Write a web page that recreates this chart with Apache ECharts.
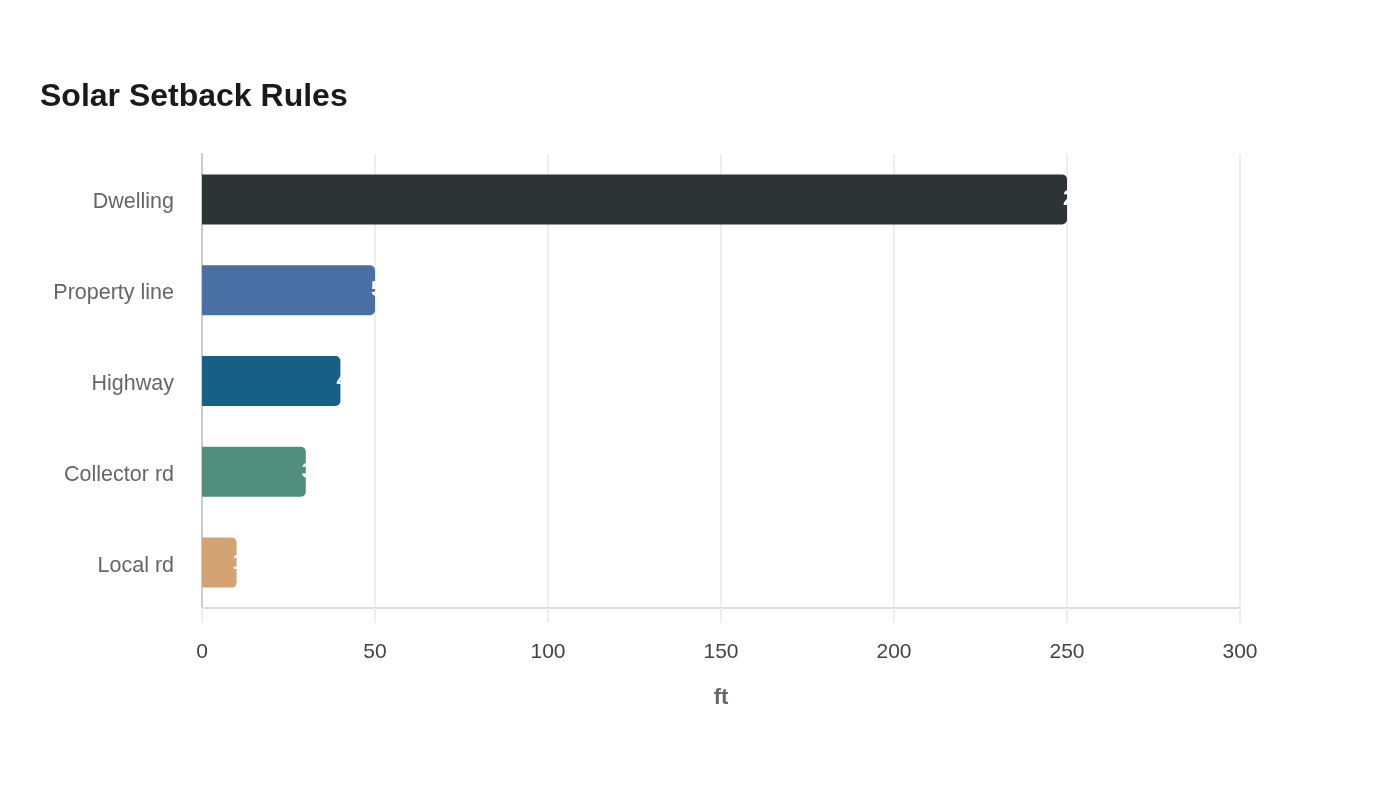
<!DOCTYPE html>
<html>
<head>
<meta charset="utf-8">
<script src="https://cdn.jsdelivr.net/npm/echarts@6/dist/echarts.min.js"></script>
<style>
  html, body { margin: 0; padding: 0; background: #fff; }
  #main { width: 1400px; height: 800px; }
</style>
</head>
<body>
<div id="main"></div>
<script>
var categories = ['Dwelling', 'Property line', 'Highway', 'Collector rd', 'Local rd'];
var values = [250, 50, 40, 30, 10];
var barColors = ['#2d3436', '#4a6fa5', '#166088', '#4f8f7b', '#d4a373'];
var xTicks = [0, 50, 100, 150, 200, 250, 300];

var seriesData = values.map(function (v, i) {
    return { value: v, itemStyle: { color: barColors[i] } };
});

var fontFam = "'Liberation Sans', Arial, sans-serif";

var option = {
    backgroundColor: '#ffffff',
    textStyle: { fontFamily: fontFam },
    title: {
        text: 'Solar Setback Rules',
        left: 35,
        top: 76,
        textStyle: { fontSize: 32, fontWeight: 'bold', color: '#1a1a1a', fontFamily: fontFam }
    },
    grid: {
        left: 202,
        right: 160,
        top: 154,
        bottom: 192
    },
    xAxis: {
        type: 'value',
        min: xTicks[0],
        max: xTicks[xTicks.length - 1],
        interval: 50,
        name: 'ft',
        nameLocation: 'middle',
        nameGap: 79,
        nameTextStyle: { fontSize: 22, fontWeight: 'bold', color: '#666', fontFamily: fontFam },
        axisLine: { show: true, lineStyle: { color: '#ddd', width: 2 } },
        axisTick: { show: true, length: 15, lineStyle: { color: '#eee', width: 2 } },
        axisLabel: { fontSize: 21, color: '#444', margin: 34, fontFamily: fontFam },
        splitLine: { show: true, lineStyle: { color: '#eee', width: 2 } }
    },
    yAxis: {
        type: 'category',
        inverse: true,
        data: categories,
        axisLine: { show: true, lineStyle: { color: '#ccc', width: 2 } },
        axisTick: { show: false },
        axisLabel: {
            margin: 28,
            formatter: '{c|{value}}',
            rich: {
                c: { fontSize: 21.5, color: '#666', fontFamily: fontFam, padding: [6, 0, 0, 0] }
            }
        }
    },
    series: [
        {
            type: 'bar',
            data: seriesData,
            barWidth: 50,
            itemStyle: { borderRadius: [0, 5, 5, 0] },
            label: {
                show: true,
                position: 'right',
                distance: -4,
                color: '#fff',
                fontSize: 22,
                fontWeight: 'bold',
                fontFamily: fontFam
            }
        }
    ]
};

var myChart = echarts.init(document.getElementById('main'));
myChart.setOption(option);
</script>
</body>
</html>
